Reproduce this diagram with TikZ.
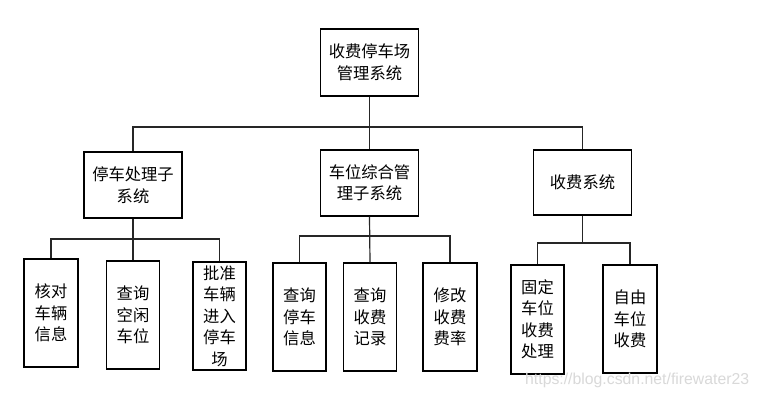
\documentclass[tikz,border=0pt]{standalone}
\usepackage{fontspec}
\newfontfamily\cjk{Noto Sans CJK SC}
\newfontfamily\wmfont{Liberation Sans}
\begin{document}
\begin{tikzpicture}[x=1pt,y=-1pt,
  box/.style={draw=black,line width=1.2pt,inner sep=0pt,align=center,
    font=\cjk\fontsize{16.3}{21.5}\selectfont},
  wide/.style={box,minimum width=98pt,minimum height=66pt},
  tall/.style={box,minimum width=53pt,minimum height=108pt},
  link/.style={draw=black!85,line width=1.2pt}]
\useasboundingbox[fill=white] (0,0) rectangle (758,398);
% top
\node[wide,minimum height=67pt] (top) at (369.5,62.5) {收费停车场\\管理系统};
% middle
\node[wide] (m1) at (133,185) {停车处理子\\系统};
\node[wide] (m2) at (369.5,183) {车位综合管\\理子系统};
\node[wide,minimum height=65pt] (m3) at (582.5,182.5) {收费系统};
% bottom
\node[tall,minimum width=54pt] (b1) at (51,313) {核对\\车辆\\信息};
\node[tall] (b2) at (133,315) {查询\\空闲\\车位};
\node[tall] (b3) at (219.5,316) {批准\\车辆\\进入\\停车\\场};
\node[tall] (b4) at (299.5,317) {查询\\停车\\信息};
\node[tall] (b5) at (370,317) {查询\\收费\\记录};
\node[tall,minimum width=54pt] (b6) at (450,317) {修改\\收费\\费率};
\node[tall,minimum height=109pt] (b7) at (537.5,319.5) {固定\\车位\\收费\\处理};
\node[tall,minimum width=54pt] (b8) at (630,319) {自由\\车位\\收费};
% junctions
\coordinate (j1) at (369.5,127);
\coordinate (j2) at (133,239);
\coordinate (j3) at (370,236);
\coordinate (j4) at (582.5,243);
% connectors
\draw[link] (top.south) -- (m2.north);
\draw[link] (m1.north) |- (j1) -| (m3.north);
\draw[link] (m1.south) -- (b2.north);
\draw[link] (b1.north) |- (j2) -| (b3.north);
\draw[link] (m2.south) -- (b5.north);
\draw[link] (b4.north) |- (j3) -| (b6.north);
\draw[link] (m3.south) -- (j4);
\draw[link] (b7.north) |- (j4) -| (b8.north);
% watermark
\node[anchor=west,inner sep=0pt,text=black!15,font=\wmfont\fontsize{15.8}{15.8}\selectfont] (wm) at (525,380) {https://blog.csdn.net/firewater23};
\end{tikzpicture}
\end{document}
